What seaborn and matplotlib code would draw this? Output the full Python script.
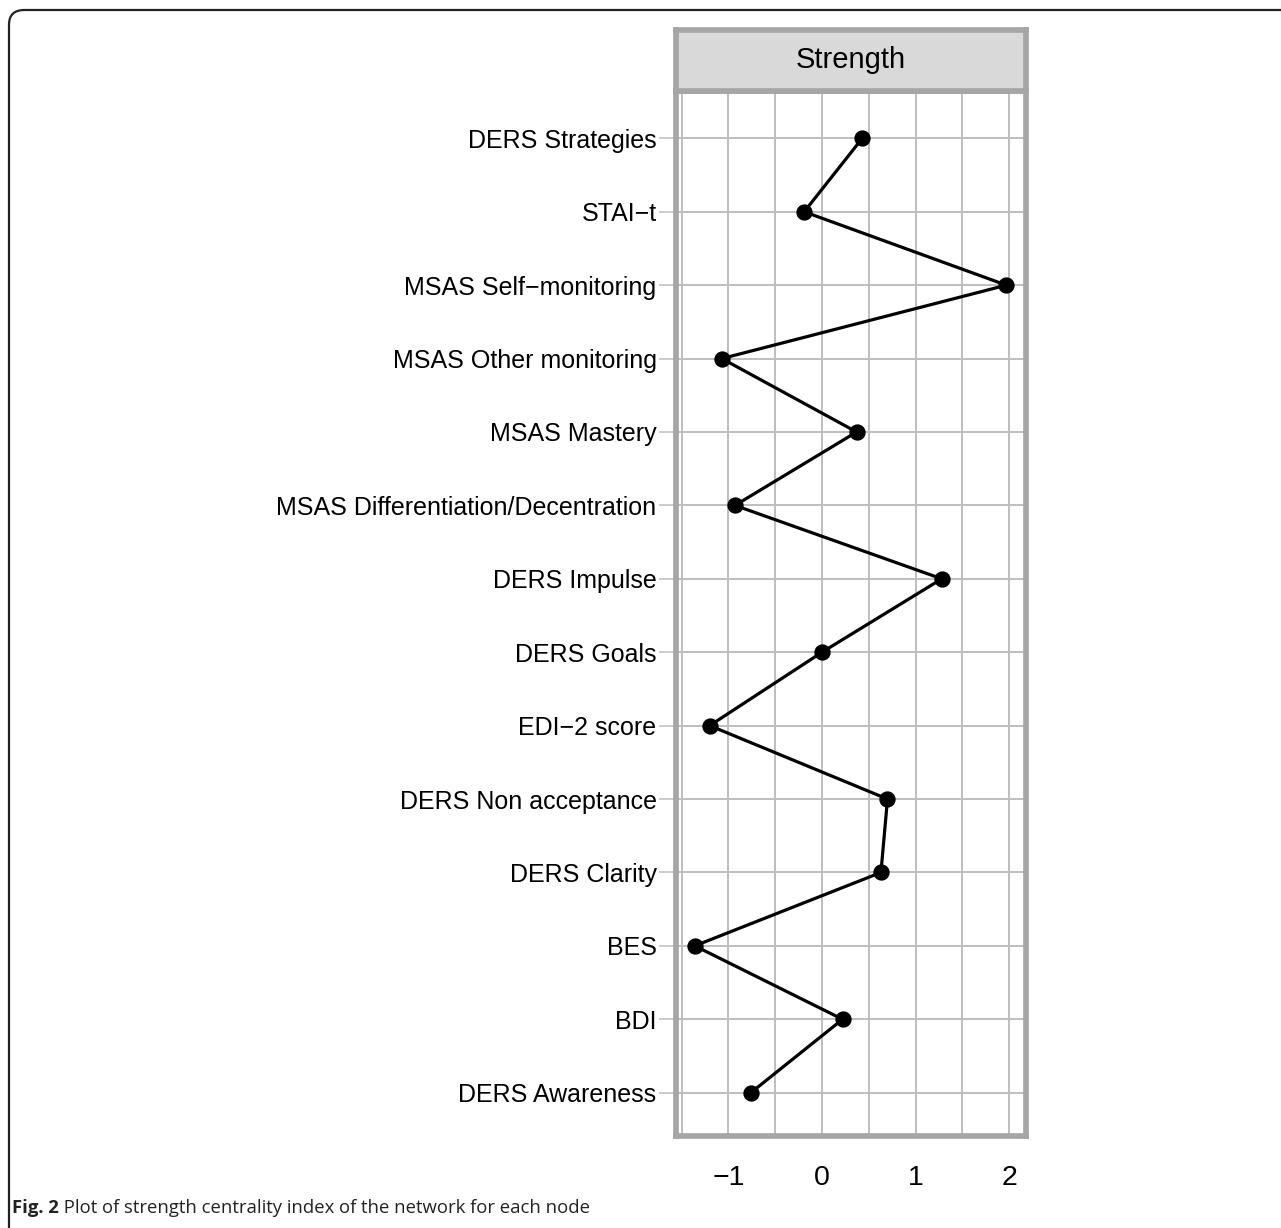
import numpy as np
import pandas as pd
import matplotlib
matplotlib.use("Agg")
import matplotlib.pyplot as plt
import seaborn as sns
from matplotlib.patches import FancyBboxPatch
from matplotlib.ticker import MultipleLocator

# node labels (top to bottom) and strength centrality values
nodes = ["DERS Strategies", "STAI\u2212t", "MSAS Self\u2212monitoring",
         "MSAS Other monitoring", "MSAS Mastery",
         "MSAS Differentiation/Decentration", "DERS Impulse", "DERS Goals",
         "EDI\u22122 score", "DERS Non acceptance", "DERS Clarity", "BES",
         "BDI", "DERS Awareness"]
strength = [0.43, -0.19, 1.97, -1.07, 0.37, -0.93, 1.28, 0.00,
            -1.20, 0.70, 0.63, -1.36, 0.22, -0.76]
x_ticks = [-1, 0, 1, 2]
strip_title = "Strength"
caption_bold = "Fig. 2"
caption_rest = " Plot of strength centrality index of the network for each node"

df = pd.DataFrame({"node": nodes, "value": strength})

sns.set_theme(style="white")
plt.rcParams["font.family"] = ["Liberation Sans", "DejaVu Sans"]

W, H = 1281, 1228
fig = plt.figure(figsize=(W / 100, H / 100), dpi=100)
fig.patch.set_facecolor("white")

border_col = "#A6A6A6"
grid_col = "#BEBEBE"

# main panel
ax = fig.add_axes([676 / W, 1 - 1136 / H, 350 / W, 1045 / H])
sns.pointplot(data=df, x="value", y="node", order=nodes, orient="h",
              color="black", errorbar=None, markersize=10, linewidth=2.3,
              ax=ax)
ax.set_xlim(-1.56, 2.18)
ax.set_ylim(13.59, -0.645)
ax.xaxis.set_major_locator(MultipleLocator(1))
ax.xaxis.set_minor_locator(MultipleLocator(0.5))
ax.set_xticks(x_ticks)
ax.grid(True, which="both", axis="x", color=grid_col, linewidth=1.4)
ax.grid(True, which="major", axis="y", color=grid_col, linewidth=1.4)
ax.set_axisbelow(True)
ax.set_xlabel("")
ax.set_ylabel("")
for s in ax.spines.values():
    s.set_color(border_col)
    s.set_linewidth(4.1)
ax.tick_params(axis="y", which="major", length=12, width=1.1, color=grid_col,
               pad=2, labelsize=18, labelcolor="black", left=True)
ax.tick_params(axis="x", which="both", length=0, pad=21, labelsize=20.5,
               labelcolor="black")
ax.set_xticklabels(["\u22121", "0", "1", "2"])

# strip on top
sax = fig.add_axes([676 / W, 1 - 91 / H, 350 / W, 61 / H])
sax.set_facecolor("#D9D9D9")
sax.set_xticks([])
sax.set_yticks([])
for s in sax.spines.values():
    s.set_color(border_col)
    s.set_linewidth(4.1)
sax.text(0.5, 0.5, strip_title, ha="center", va="center", fontsize=21,
         color="black", transform=sax.transAxes)

# outer rounded frame of the figure (clipped at right / bottom)
frame = FancyBboxPatch((9 / W, -0.05), 1.1, 1 - 10 / H + 0.05,
                       boxstyle="round,pad=0,rounding_size=0.012",
                       transform=fig.transFigure, facecolor="none",
                       edgecolor="#222222", linewidth=1.6, clip_on=False)
fig.patches.append(frame)

# caption
t1 = fig.text(12 / W, 1 - 1208 / H, caption_bold, fontsize=13.3,
              fontweight="bold", family=["Open Sans", "DejaVu Sans"],
              va="center", ha="left", color="#222222")
fig.canvas.draw()
bb = t1.get_window_extent(renderer=fig.canvas.get_renderer())
fig.text(bb.x1 / W, 1 - 1208 / H, caption_rest, fontsize=13.3,
         family=["Open Sans", "DejaVu Sans"], va="center", ha="left",
         color="#222222")

fig.savefig("out.png", dpi=100, facecolor="white")
